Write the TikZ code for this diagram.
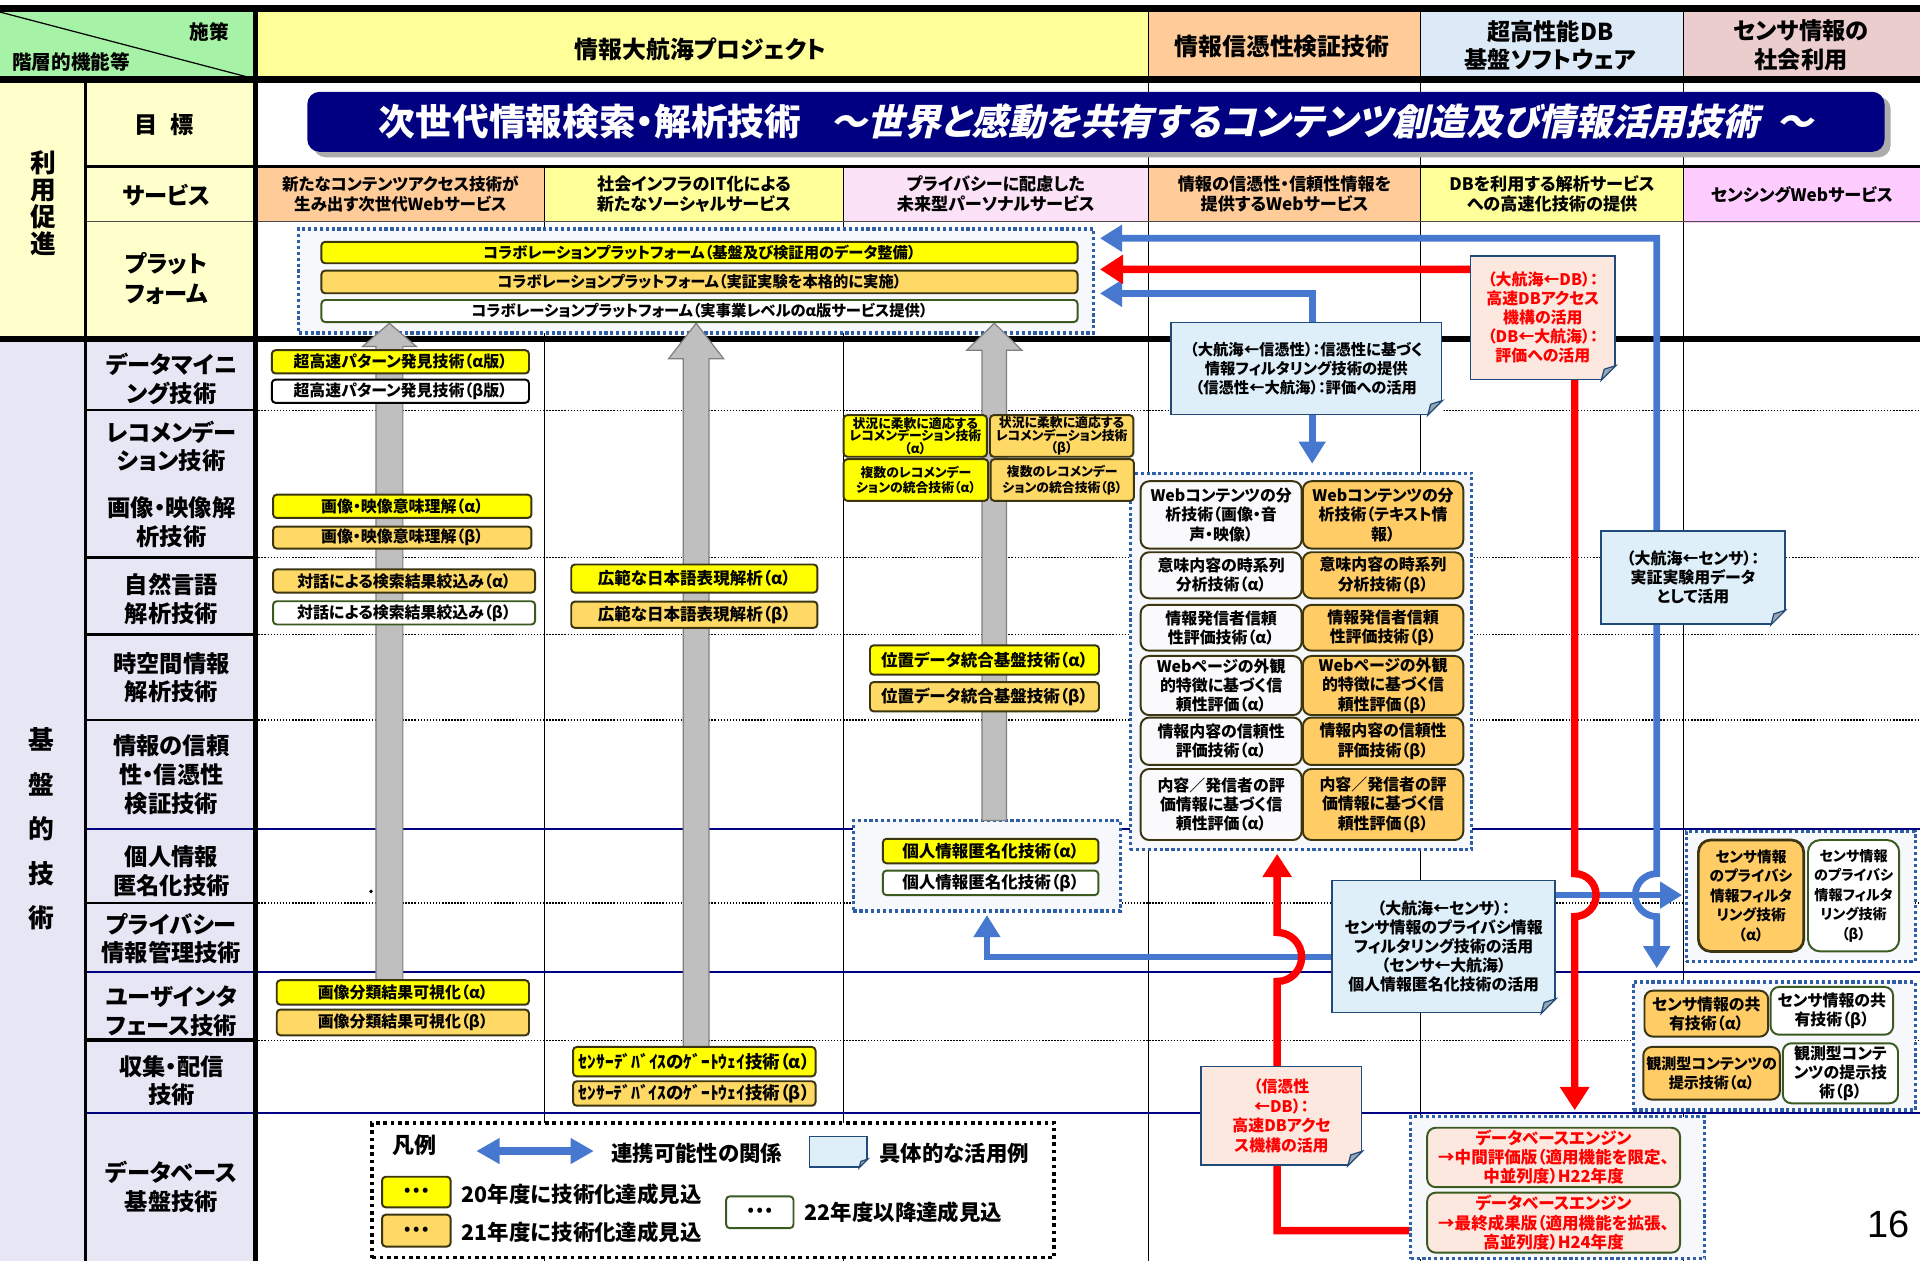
\documentclass[tikz,border=0pt]{standalone}
\usepackage{fontspec}
\setmainfont{Noto Sans CJK JP}[RawFeature=+palt]
\newfontfamily\jpsl{Noto Sans CJK JP}[RawFeature=+palt,FakeSlant=0.22]
\newfontfamily\arialf{Liberation Sans}
\usetikzlibrary{arrows.meta,calc}
\definecolor{hgreen}{HTML}{A6F2A6}
\definecolor{hyellow}{HTML}{FFFF99}
\definecolor{horange}{HTML}{FFCC99}
\definecolor{hblue}{HTML}{DCE9F6}
\definecolor{hrose}{HTML}{EBCDCD}
\definecolor{lyel}{HTML}{FFFFCC}
\definecolor{lav}{HTML}{E6E6F5}
\definecolor{spink}{HTML}{FCE2F6}
\definecolor{smag}{HTML}{FFCCFF}
\definecolor{byel}{HTML}{FFFF00}
\definecolor{bora}{HTML}{FFD966}
\definecolor{bora2}{HTML}{FFCC66}
\definecolor{bbord}{HTML}{3B3510}
\definecolor{gbord}{HTML}{3A5A20}
\definecolor{navy}{HTML}{000080}
\definecolor{dotblue}{HTML}{2E5FA6}
\definecolor{boxbg}{HTML}{F7F8FC}
\definecolor{cblue}{HTML}{4678D0}
\definecolor{notebg}{HTML}{DEEFFA}
\definecolor{noteb}{HTML}{1F4A7A}
\definecolor{redbg}{HTML}{FDE8E0}
\definecolor{garrow}{HTML}{BFBFBF}
\definecolor{garrowb}{HTML}{7F7F7F}
\definecolor{foldgray}{HTML}{9AA6B2}
\definecolor{lboxbg}{HTML}{FAFAFC}
\tikzset{
  every node/.style={inner sep=0pt, align=center},
  fs/.style 2 args={font=\bfseries\fontsize{#1}{#2}\selectfont},
  tb/.style={rounded corners=3pt, draw=bbord, line width=1.6pt},
  ybox/.style={tb, fill=byel},
  obox/.style={tb, fill=bora},
  wbox/.style={tb, fill=white, draw=gbord},
  kbox/.style={tb, fill=white, draw=black},
  lbox/.style={tb, rounded corners=7pt, fill=lboxbg, draw=bbord},
  rbox/.style={tb, rounded corners=7pt, fill=bora2, draw=bbord},
  dbe/.style={tb, rounded corners=7pt, fill=redbg, draw=gbord, text=red},
  dbox/.style={draw=dotblue, line width=2.6pt, dash pattern=on 2.6pt off 2.2pt, fill=boxbg},
  note/.style={draw=noteb, fill=notebg, line width=1.3pt},
  rnote/.style={draw=noteb, fill=redbg, line width=1.3pt, text=red},
  bline/.style={draw=cblue, line width=5.5pt},
  rline/.style={draw=red, line width=6pt},
  tri/.tip={Triangle[length=18pt,width=21pt]},
  trr/.tip={Triangle[length=19pt,width=23pt]},
  lab/.style={fs={19}{23.5}},
  gar/.style={fill=garrow, draw=garrowb, line width=1pt},
  gl/.style={line width=0.9pt},
  dgl/.style={line width=1pt, dash pattern=on 1.2pt off 1.3pt},
  ngl/.style={draw=navy, line width=1.8pt},
}
\newcommand\foldc[2][12]{%
  \fill[white] ($(#2.south east)+(-#1-1,1)$) -- ($(#2.south east)+(1,1)$) -- ($(#2.south east)+(1,-#1-1)$) -- cycle;
  \filldraw[fill=foldgray, draw=noteb, line width=1pt] ($(#2.south east)+(-#1,0)$) -- ($(#2.south east)+(0,-#1)$) -- ($(#2.south east)+(-0.8*#1,-0.75*#1)$) -- cycle;}
\newcommand\grar[6]{%
  \filldraw[gar] ({#1-#5},#4) -- ({#1-#5},#3) -- ({#1-#6},#3) -- (#1,#2) -- ({#1+#6},#3) -- ({#1+#5},#3) -- ({#1+#5},#4) -- cycle;}
\begin{document}
\begin{tikzpicture}[x=1pt,y=-1pt]
\useasboundingbox (0,0) rectangle (1568,1030);
\fill[white] (0,0) rectangle (1568,1030);
% ---------- header cells
\node[fill=hgreen, minimum width=207, minimum height=54] (hL) at (103.5,37) {};
\node[fill=hyellow, minimum width=731, minimum height=54] (hP) at (572.5,37) {};
\node[fill=horange, minimum width=222, minimum height=54] (hC) at (1049,37) {};
\node[fill=hblue, minimum width=215, minimum height=54] (hD) at (1267.5,37) {};
\node[fill=hrose, minimum width=193, minimum height=54] (hS) at (1471.5,37) {};
\node[fs={19.5}{22}] (hPt) at (572,40) {情報大航海プロジェクト};
\node[fs={19.5}{22}] (hCt) at (1047,38) {情報信憑性検証技術};
\node[fs={19}{23.5}] (hDt) at (1266,37) {超高性能DB\\基盤ソフトウェア};
\node[fs={19}{23.5}] (hSt) at (1471,37) {センサ情報の\\社会利用};
\draw[line width=1pt] (hL.north west) -- (hL.south east);
\node[fs={16}{18}] (hL1) at (171,26) {施策};
\node[fs={16}{18}] (hL2) at (58,51) {階層的機能等};
% ---------- left fills
\fill[lyel] (0,68) rectangle (209,276);
\fill[lav] (0,276) rectangle (209,1030);
% ---------- service cells
\node[fill=horange, minimum width=236, minimum height=45, fs={13.5}{16.5}] (sv1) at (327,158.5) {新たなコンテンツアクセス技術が\\生み出す次世代Webサービス};
\node[fill=hyellow, minimum width=243.5, minimum height=45, fs={14}{16.5}] (sv2) at (566.75,158.5) {社会インフラのIT化による\\新たなソーシャルサービス};
\node[fill=spink, minimum width=249.5, minimum height=45, fs={14}{16.5}] (sv3) at (813.25,158.5) {プライバシーに配慮した\\未来型パーソナルサービス};
\node[fill=horange, minimum width=222, minimum height=45, fs={14}{16.5}] (sv4) at (1049,158.5) {情報の信憑性・信頼性情報を\\提供するWebサービス};
\node[fill=hyellow, minimum width=215, minimum height=45, fs={14}{16.5}] (sv5) at (1267.5,158.5) {DBを利用する解析サービス\\への高速化技術の提供};
\node[fill=smag, minimum width=193, minimum height=45, fs={14}{16.5}] (sv6) at (1471.5,159.5) {センシングWebサービス};
% ---------- grid lines
\draw[gl] (445,136) -- (445,1030);
\draw[gl] (688.5,136) -- (688.5,1030);
\draw[gl] (938,10) -- (938,1030);
\draw[gl] (1160,10) -- (1160,1030);
\draw[gl] (1375,10) -- (1375,1030);
\foreach \yy in {335,455,518,588,737.5,849.5} \draw[dgl] (211,\yy) -- (1568,\yy);
\foreach \yy/\ww in {335/2,455/2.5,518/2,588/2,737.5/2,849.5/3} \draw[line width=\ww pt] (70,\yy) -- (209,\yy);
\foreach \yy in {677,794,909} \draw[ngl] (70,\yy) -- (1568,\yy);
\draw[line width=0.8pt, black!70] (70,181) -- (1568,181);
\draw[line width=2.5pt] (70,136) -- (1568,136);
\draw[line width=2.5pt] (70,68) -- (70,1030);
\draw[line width=4pt] (209,10) -- (209,1030);
\draw[line width=6pt] (0,7) -- (1568,7);
\draw[line width=6pt] (0,65) -- (1568,65);
\draw[line width=5pt] (0,276.5) -- (1568,276.5);
% ---------- row labels
\node[fs={21}{22}] (lUse) at (35,166) {利\\用\\促\\進};
\node[fs={21}{36.3}] (lBase) at (33.5,677) {基\\盤\\的\\技\\術};
\node[fs={19}{22}] (lGoal) at (134,102) {目\hspace{11pt}標};
\node[fs={19}{22}] (lSrv) at (136,159) {サービス};
\node[fs={19}{24.5}, anchor=west, align=left] (lPlat) at (102,227.5) {プラット\\フォーム};
\node[lab] (l_dm) at (140,309.5) {データマイニ\\ング技術};
\node[lab] (l_rc) at (140,364.5) {レコメンデー\\ション技術};
\node[lab] (l_im) at (140,426.5) {画像・映像解\\析技術};
\node[lab] (l_nl) at (140,489.5) {自然言語\\解析技術};
\node[lab] (l_st) at (140,553.5) {時空間情報\\解析技術};
\node[lab] (l_cr) at (140,632.5) {情報の信頼\\性・信憑性\\検証技術};
\node[lab] (l_an) at (140,711.5) {個人情報\\匿名化技術};
\node[lab] (l_pv) at (140,766.5) {プライバシー\\情報管理技術};
\node[lab] (l_ui) at (140,826) {ユーザインタ\\フェース技術};
\node[lab] (l_cd) at (140,882.5) {収集・配信\\技術};
\node[lab] (l_db) at (140,969.5) {データベース\\基盤技術};
% ---------- goal banner
\fill[gray!65, rounded corners=10pt] (256,79) rectangle (1544,128.5);
\node[fill=navy, rounded corners=10pt, minimum width=1288, minimum height=49, text=white, fs={30}{32}] (goal) at (895,99.5)
  {次世代情報検索・解析技術\hspace{24pt}{\jpsl\bfseries ～世界と感動を共有するコンテンツ創造及び情報活用技術\hspace{14pt}～}};
% ---------- dotted group boxes
\node[dbox, minimum width=649, minimum height=85] (plat) at (568.5,229.5) {};
\node[dbox, minimum width=218, minimum height=74] (anon) at (806,707) {};
\node[dbox, minimum width=279, minimum height=307.5] (cred) at (1062.5,540.25) {};
\node[dbox, minimum width=187, minimum height=106] (spb) at (1470.5,732) {};
\node[dbox, minimum width=230, minimum height=104.5] (ssb) at (1449,854.25) {};
\node[dbox, minimum width=240, minimum height=116] (dbb) at (1272,970) {};
% ---------- gray arrows
\grar{318}{264}{283}{805}{11}{22}
\grar{568.5}{264}{293}{860}{10.5}{22.5}
\grar{812}{264}{286}{670}{10}{22.5}
% ---------- platform bars
\node[ybox, fs={12.5}{14}, minimum width=617.5, minimum height=17.5] (pb1) at (571.25,206.25) {コラボレーションプラットフォーム（基盤及び検証用のデータ整備）};
\node[obox, fs={12.5}{14}, minimum width=617.5, minimum height=18.5] (pb2) at (571.25,230.25) {コラボレーションプラットフォーム（実証実験を本格的に実施）};
\node[wbox, fs={12.5}{14}, minimum width=617.5, minimum height=18] (pb3) at (571.25,254) {コラボレーションプラットフォーム（実事業レベルのα版サービス提供）};
% ---------- column 1
\node[ybox, fs={13}{14}, minimum width=210, minimum height=19] (dma) at (327,295.5) {超高速パターン発見技術（α版）};
\node[kbox, fs={13}{14}, minimum width=210, minimum height=19] (dmb) at (327,319.5) {超高速パターン発見技術（β版）};
\node[ybox, fs={13}{14}, minimum width=211, minimum height=19] (ima) at (328.5,413.5) {画像・映像意味理解（α）};
\node[obox, fs={13}{14}, minimum width=211, minimum height=18] (imb) at (328.5,439) {画像・映像意味理解（β）};
\node[obox, fs={13}{14}, minimum width=214, minimum height=19] (nla) at (330,474.5) {対話による検索結果絞込み（α）};
\node[wbox, fs={13}{14}, minimum width=214, minimum height=19] (nlb) at (330,500.5) {対話による検索結果絞込み（β）};
\node[ybox, fs={13}{14}, minimum width=206, minimum height=20] (uia) at (329,810.5) {画像分類結果可視化（α）};
\node[obox, fs={13}{14}, minimum width=206, minimum height=21] (uib) at (329,835) {画像分類結果可視化（β）};
% ---------- column 2
\node[ybox, fs={13.5}{15}, minimum width=201, minimum height=23] (jpa) at (567,472.5) {広範な日本語表現解析（α）};
\node[obox, fs={13.5}{15}, minimum width=201, minimum height=21.5] (jpb) at (567,502) {広範な日本語表現解析（β）};
\node[ybox, fs={14.3}{15}, minimum width=198, minimum height=24] (gwa) at (567,867) {ｾﾝｻｰﾃﾞﾊﾞｲｽのｹﾞｰﾄｳｪｲ技術（α）};
\node[obox, fs={14.3}{15}, minimum width=198, minimum height=20] (gwb) at (567,893) {ｾﾝｻｰﾃﾞﾊﾞｲｽのｹﾞｰﾄｳｪｲ技術（β）};
% ---------- column 3
\node[ybox, fs={10.5}{10.3}, minimum width=117, minimum height=34] (rc1a) at (747.5,356) {状況に柔軟に適応する\\レコメンデーション技術\\（α）};
\node[obox, fs={10.5}{10.3}, minimum width=117, minimum height=34] (rc1b) at (867,356) {状況に柔軟に適応する\\レコメンデーション技術\\（β）};
\node[ybox, fs={10.5}{12.8}, minimum width=118, minimum height=34] (rc2a) at (748,392) {複数のレコメンデー\\ションの統合技術（α）};
\node[obox, fs={10.5}{12.8}, minimum width=117, minimum height=34] (rc2b) at (867.5,392) {複数のレコメンデー\\ションの統合技術（β）};
\node[ybox, fs={13.5}{15}, minimum width=187, minimum height=24] (loca) at (804,539) {位置データ統合基盤技術（α）};
\node[obox, fs={13.5}{15}, minimum width=187, minimum height=24] (locb) at (804,569) {位置データ統合基盤技術（β）};
\node[ybox, fs={13.5}{15}, minimum width=176, minimum height=20] (ana) at (809,695) {個人情報匿名化技術（α）};
\node[wbox, fs={13.5}{15}, minimum width=176, minimum height=20] (anb) at (809,721) {個人情報匿名化技術（β）};
% ---------- credibility techniques
\node[lbox, fs={13}{15.8}, minimum width=131.5, minimum height=55] (c1a) at (997.25,420.5) {Webコンテンツの分\\析技術（画像・音\\声・映像）};
\node[rbox, fs={13}{15.8}, minimum width=131, minimum height=55] (c1b) at (1129.5,420.5) {Webコンテンツの分\\析技術（テキスト情\\報）};
\node[lbox, fs={13}{15.8}, minimum width=131.5, minimum height=37.6] (c2a) at (997.25,469.8) {意味内容の時系列\\分析技術（α）};
\node[rbox, fs={13}{15.8}, minimum width=131, minimum height=37.6] (c2b) at (1129.5,469.8) {意味内容の時系列\\分析技術（β）};
\node[lbox, fs={13}{15.8}, minimum width=131.5, minimum height=37.4] (c3a) at (997.25,512.7) {情報発信者信頼\\性評価技術（α）};
\node[rbox, fs={13}{15.8}, minimum width=131, minimum height=37.4] (c3b) at (1129.5,512.7) {情報発信者信頼\\性評価技術（β）};
\node[lbox, fs={13}{15.8}, minimum width=131.5, minimum height=48.3] (c4a) at (997.25,559.85) {Webページの外観\\的特徴に基づく信\\頼性評価（α）};
\node[rbox, fs={13}{15.8}, minimum width=131, minimum height=48.3] (c4b) at (1129.5,559.85) {Webページの外観\\的特徴に基づく信\\頼性評価（β）};
\node[lbox, fs={13}{15.8}, minimum width=131.5, minimum height=38.7] (c5a) at (997.25,605.35) {情報内容の信頼性\\評価技術（α）};
\node[rbox, fs={13}{15.8}, minimum width=131, minimum height=38.7] (c5b) at (1129.5,605.35) {情報内容の信頼性\\評価技術（β）};
\node[lbox, fs={13}{15.8}, minimum width=131.5, minimum height=58] (c6a) at (997.25,657) {内容／発信者の評\\価情報に基づく信\\頼性評価（α）};
\node[rbox, fs={13}{15.8}, minimum width=131, minimum height=58] (c6b) at (1129.5,657) {内容／発信者の評\\価情報に基づく信\\頼性評価（β）};
% ---------- sensor techniques
\node[rbox, line width=2.2pt, rounded corners=10pt, fs={12}{16}, minimum width=86, minimum height=91] (spo) at (1430,731.5) {センサ情報\\のプライバシ\\情報フィルタ\\リング技術\\（α）};
\node[wbox, rounded corners=10pt, fs={11.5}{16}, minimum width=74.5, minimum height=91] (spw) at (1513.75,731.5) {センサ情報\\のプライバシ\\情報フィルタ\\リング技術\\（β）};
\node[rbox, fs={13}{15.6}, minimum width=101, minimum height=37.6] (sho) at (1393.5,827.8) {センサ情報の共\\有技術（α）};
\node[wbox, rounded corners=7pt, fs={13}{15.6}, minimum width=100, minimum height=39] (shw) at (1496,825.5) {センサ情報の共\\有技術（β）};
\node[rbox, fs={12.3}{15.6}, minimum width=111.6, minimum height=43] (obo) at (1397.8,876.5) {観測型コンテンツの\\提示技術（α）};
\node[wbox, rounded corners=7pt, fs={13}{15.6}, minimum width=94, minimum height=49] (obw) at (1503,876.5) {観測型コンテ\\ンツの提示技\\術（β）};
% ---------- database engine
\node[dbe, fs={13.5}{15.6}, minimum width=206.5, minimum height=48.5] (db1) at (1268.75,945.25) {データベースエンジン\\→中間評価版（適用機能を限定、\\中並列度）H22年度};
\node[dbe, fs={13.5}{15.6}, minimum width=206.5, minimum height=49] (db2) at (1268.75,998.5) {データベースエンジン\\→最終成果版（適用機能を拡張、\\高並列度）H24年度};
% ---------- connectors
\coordinate (b3a) at (806,781.5);
\coordinate (b3b) at (1150,781.5);
\coordinate (b3c) at (1150,731);
\draw[bline, tri-tri] ($(anon.south -| b3a)+(0,2)$) -- (b3a) -- (b3b) -- (b3c) -- ($(spb.west |- b3c)+(-2,0)$);
\coordinate (b1a) at (1353,194.6);
\draw[bline, tri-tri] ($(plat.east |- b1a)+(4,0)$) -- (b1a) -- (1353,713.5) arc[start angle=90,end angle=270,radius=17.5pt] -- ($(ssb.north -| b1a)+(0,-10)$);
\coordinate (b2a) at (1071.6,239.6);
\draw[bline, tri-tri] ($(plat.east |- b2a)+(4,0)$) -- (b2a) -- ($(cred.north -| b2a)+(0,-6.5)$);
\coordinate (r1a) at (1286,220);
\draw[rline, trr-trr] ($(plat.east |- r1a)+(4,0)$) -- (r1a) -- (1286,713.5) arc[start angle=90,end angle=-90,radius=17.5pt] -- ($(dbb.north -| r1a)+(0,-4)$);
\coordinate (r3a) at (1043,1005);
\draw[rline, -trr] (dbb.west |- r3a) -- (r3a) -- (1043,801.5) arc[start angle=-90,end angle=90,radius=20pt] -- ($(cred.south -| r3a)+(0,2)$);
% ---------- notes
\node[note, fs={12.5}{15.4}, minimum width=221, minimum height=75] (ncred) at (1066.8,301) {（大航海←信憑性）：信憑性に基づく\\情報フィルタリング技術の提供\\（信憑性←大航海）：評価への活用};
\foldc{ncred}
\node[rnote, fs={13}{15.6}, minimum width=118, minimum height=101] (ndb) at (1260,259.4) {（大航海←DB）：\\高速DBアクセス\\機構の活用\\（DB←大航海）：\\評価への活用};
\foldc{ndb}
\node[note, fs={13}{15.6}, minimum width=150, minimum height=76] (ns1) at (1382.6,471.7) {（大航海←センサ）：\\実証実験用データ\\として活用};
\foldc{ns1}
\node[note, fs={13}{15.6}, minimum width=182, minimum height=108] (ns2) at (1179,773) {（大航海←センサ）：\\センサ情報のプライバシ情報\\フィルタリング技術の活用\\（センサ←大航海）\\個人情報匿名化技術の活用};
\foldc{ns2}
\node[rnote, fs={13}{16}, minimum width=131, minimum height=80.5] (ndb2) at (1046.5,911.25) {（信憑性\\←DB）：\\高速DBアクセ\\ス機構の活用};
\foldc{ndb2}
% ---------- legend
\node[draw=black, line width=3pt, dash pattern=on 3pt off 3pt, fill=white, minimum width=557, minimum height=110] (legend) at (582.5,972) {};
\node[fs={18}{20}, anchor=west] (lgT) at (320,935) {凡例};
\coordinate (lga) at (389,940);
\coordinate (lgb) at (485,940);
\draw[cblue, line width=7pt, {Triangle[length=19pt,width=20pt]}-{Triangle[length=19pt,width=20pt]}] (lga) -- (lgb);
\node[fs={17.5}{20}, anchor=west] (lg1) at (499,942) {連携可能性の関係};
\node[note, minimum width=47, minimum height=25] (lgN) at (684.5,940.5) {};
\foldc[7]{lgN}
\node[fs={17.5}{20}, anchor=west] (lg2) at (718,942) {具体的な活用例};
\node[ybox, fs={13}{14}, minimum width=56, minimum height=25] (lgY) at (340,973.5) {•\,•\,•};
\node[fs={17.5}{20}, anchor=west] (lg3) at (377,975) {20年度に技術化達成見込};
\node[obox, fs={13}{14}, minimum width=56, minimum height=26] (lgO) at (340,1005) {•\,•\,•};
\node[fs={17.5}{20}, anchor=west] (lg4) at (377,1006) {21年度に技術化達成見込};
\node[wbox, fs={13}{14}, minimum width=55, minimum height=26] (lgW) at (620.5,990) {•\,•\,•};
\node[fs={17.5}{20}, anchor=west] (lg5) at (657,990) {22年度以降達成見込};
% ---------- page number and stray dot
\node[font=\arialf\fontsize{31}{31}\selectfont] (pg) at (1542,1000) {16};
\fill (303,728) circle[radius=1.6pt];
\end{tikzpicture}
\end{document}
